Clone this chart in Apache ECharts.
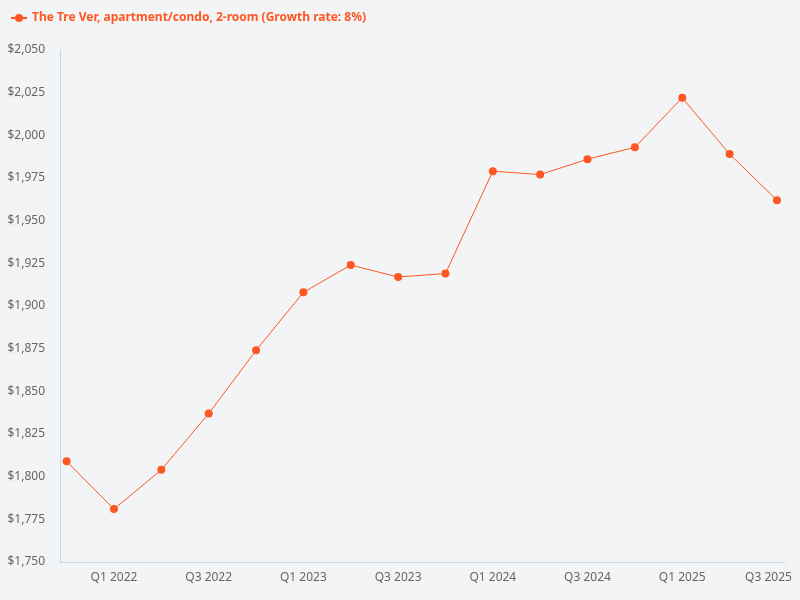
<!DOCTYPE html>
<html><head><meta charset="utf-8">
<script src="https://cdn.jsdelivr.net/npm/echarts@6/dist/echarts.min.js"></script>
<style>html,body{margin:0;padding:0;background:#f3f4f6}#c{width:800px;height:600px}</style>
</head><body><div id="c"></div>
<script>
const categories = ['Q4 2021','Q1 2022','Q2 2022','Q3 2022','Q4 2022','Q1 2023','Q2 2023','Q3 2023','Q4 2023','Q1 2024','Q2 2024','Q3 2024','Q4 2024','Q1 2025','Q2 2025','Q3 2025'];
const rents = [1809, 1781, 1804, 1837, 1874, 1908, 1924, 1917, 1919, 1979, 1977, 1986, 1993, 2022, 1989, 1962];
const labelIndices = [1, 3, 5, 7, 9, 11, 13, 15];
const seriesName = 'The Tre Ver, apartment/condo, 2-room (Growth rate: 8%)';
const color = '#ff5722';
const font = 'Noto Sans';

const chart = echarts.init(document.getElementById('c'));
chart.setOption({
  backgroundColor: '#f3f4f6',
  animation: false,
  textStyle: { fontFamily: font },
  legend: {
    left: 5, top: 7, itemWidth: 16, itemHeight: 10,
    textStyle: { color: color, fontWeight: 'bold', fontSize: 12, fontFamily: font },
    data: [seriesName]
  },
  grid: { left: 60, right: 15, top: 50, bottom: 38, containLabel: false },
  xAxis: {
    type: 'value', min: -0.14, max: 15.17,
    splitLine: { show: false },
    axisLine: { show: true, onZero: false, lineStyle: { color: '#c9d5ea' } },
    axisTick: { show: false },
    axisLabel: {
      customValues: labelIndices,
      formatter: v => v === categories.length - 1 ? '{last|' + categories[v] + '}' : (categories[v] || ''),
      rich: { last: { padding: [0, 17, 0, 0], color: '#666', fontSize: 12, fontFamily: font } },
      color: '#666', fontSize: 12, margin: 10, fontFamily: font
    }
  },
  yAxis: {
    type: 'value', min: 1750, max: 2050, interval: 25,
    splitLine: { show: false },
    axisLine: { show: true, onZero: false, lineStyle: { color: '#c9d5ea' } },
    axisTick: { show: false },
    axisLabel: {
      formatter: v => '$' + v.toLocaleString('en-US'),
      color: '#666', fontSize: 12, margin: 15, fontFamily: font
    }
  },
  series: [{
    name: seriesName, type: 'line',
    data: rents.map((v, i) => [i, v]),
    symbol: 'circle', symbolSize: 8,
    itemStyle: { color: color },
    lineStyle: { color: color, width: 1 }
  }]
});
</script></body></html>
